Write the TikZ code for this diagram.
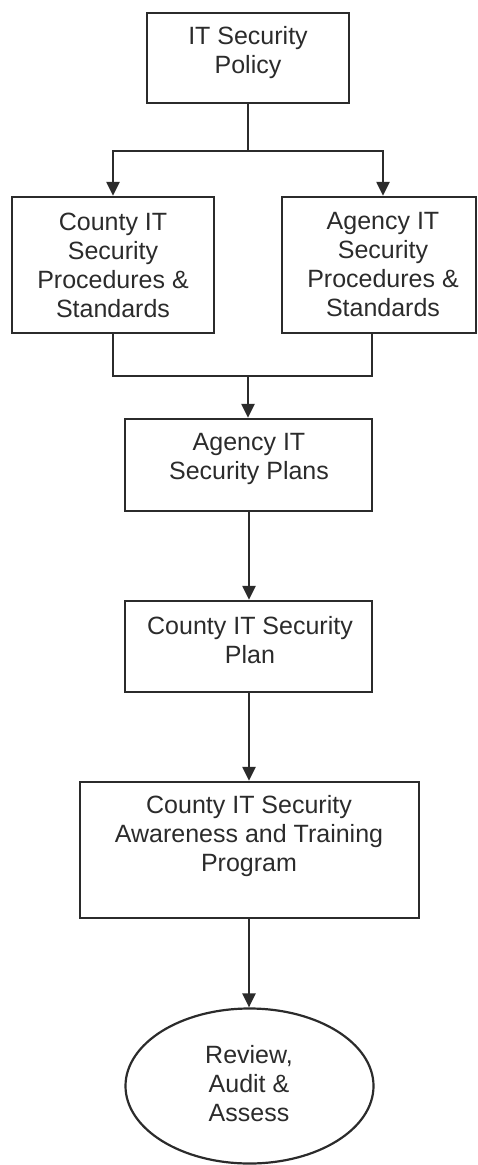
\documentclass[tikz,border=0pt]{standalone}
\usepackage{fontspec}
\setmainfont{Liberation Sans}
\usetikzlibrary{arrows.meta,shapes.geometric}
\definecolor{ink}{HTML}{2B2B2B}
\begin{document}
\begin{tikzpicture}[x=1pt,y=-1pt,
  box/.style={draw=ink,line width=2.4pt,rectangle,inner sep=0pt},
  oval/.style={draw=ink,line width=2.2pt,ellipse,inner sep=0pt},
  txt/.style={text=ink,align=center,inner sep=0pt,font=\fontsize{25}{29}\selectfont},
  conn/.style={draw=ink,line width=2.4pt},
  arr/.style={conn,-{Triangle[length=14pt,width=13pt]}}]
\useasboundingbox (0,0) rectangle (478,1165);
% boxes
\node[box,minimum width=202pt,minimum height=90pt] (b1) at (248,58) {};
\node[box,minimum width=202pt,minimum height=136pt] (b2) at (113,265) {};
\node[box,minimum width=194pt,minimum height=136pt] (b3) at (379,265) {};
\node[box,minimum width=247pt,minimum height=92pt] (b4) at (248.5,465) {};
\node[box,minimum width=247pt,minimum height=91pt] (b5) at (248.5,646.5) {};
\node[box,minimum width=339pt,minimum height=136pt] (b6) at (249.5,850) {};
\node[oval,minimum width=248pt,minimum height=155pt] (e) at (249.5,1086) {};
% texts
\node[txt] (t1) at (248,53) {IT Security\\Policy};
\node[txt] (t2) at (113,265) {County IT\\Security\\Procedures \&\\Standards};
\node[txt] (t3) at (383,265) {Agency IT\\Security\\Procedures \&\\Standards};
\node[txt] (t4) at (249,459) {Agency IT\\Security Plans};
\node[txt] (t5) at (250,640) {County IT Security\\Plan};
\node[txt] (t6) at (249,836) {County IT Security\\Awareness and Training\\Program};
\node[txt] (t7) at (249,1084) {Review,\\Audit \&\\Assess};
% split
\coordinate (s) at (248,151);
\coordinate (sl) at (113,151);
\coordinate (sr) at (383,151);
\draw[conn] (b1.south) -- (s);
\draw[conn,line cap=rect] (sl) -- (sr);
\draw[arr] (sl) -- (sl |- b2.north);
\draw[arr] (sr) -- (sr |- b3.north);
% merge
\coordinate (ml) at (113,376);
\coordinate (mr) at (372,376);
\coordinate (m) at (248,376);
\draw[conn,line join=miter] (ml |- b2.south) -- (ml) -- (mr) -- (mr |- b3.south);
\draw[arr] (m) -- (m |- b4.north);
% chain
\coordinate (c) at (249,0);
\draw[arr] (c |- b4.south) -- (c |- b5.north);
\draw[arr] (c |- b5.south) -- (c |- b6.north);
\draw[arr] (c |- b6.south) -- (c |- e.north);
\end{tikzpicture}
\end{document}
